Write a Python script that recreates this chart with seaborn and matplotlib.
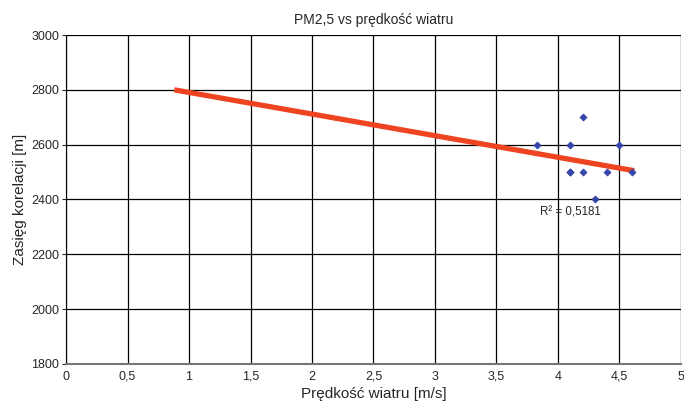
import numpy as np
import pandas as pd
import matplotlib
matplotlib.use("Agg")
import matplotlib.pyplot as plt
import seaborn as sns

wind_speed = [3.83, 4.1, 4.2, 4.5, 4.1, 4.1, 4.2, 4.4, 4.6, 4.3]
corr_range = [2600, 2600, 2700, 2600, 2500, 2500, 2500, 2500, 2500, 2400]

# linear trendline (Excel style, extended backwards)
trend_x = [0.88, 4.62]
trend_y = [2800, 2505]
r2_text = "R² = 0,5181"

x_ticks = [0, 0.5, 1, 1.5, 2, 2.5, 3, 3.5, 4, 4.5, 5]
y_ticks = [1800, 2000, 2200, 2400, 2600, 2800, 3000]

sns.set_style("white")
plt.rcParams['font.family'] = ['Liberation Sans', 'DejaVu Sans']

fig = plt.figure(figsize=(6.84, 4.07), dpi=100)
ax = fig.add_axes([0.0965, 0.1057, 0.8991, 0.8083])

df = pd.DataFrame({"x": wind_speed, "y": corr_range})
trend = pd.DataFrame({"x": trend_x, "y": trend_y})

sns.lineplot(data=trend, x="x", y="y", ax=ax, color="#ee4422", linewidth=3.8,
             solid_capstyle="butt", zorder=3)
sns.scatterplot(data=df, x="x", y="y", ax=ax, marker="D", s=13, color="#3344aa",
                edgecolor="#3344aa", linewidth=0.5, zorder=4)

ax.text(3.85, 2353, r2_text, fontsize=8.3, va="center", ha="left")

ax.set_xlim(0, 5)
ax.set_ylim(1800, 3000)
ax.set_xticks(x_ticks)
ax.set_xticklabels([str(t).replace(".", ",") if t != int(t) else str(int(t)) for t in x_ticks])
ax.set_yticks(y_ticks)
ax.grid(True, color="black", linewidth=0.9)
for s in ["top", "right"]:
    ax.spines[s].set_visible(False)
ax.spines["left"].set_color("black")
ax.spines["bottom"].set_color("#777777")
ax.spines["bottom"].set_linewidth(1.5)
ax.tick_params(axis="both", labelsize=9, length=3, direction="out", left=True, bottom=False, pad=2)

ax.set_title("PM2,5 vs prędkość wiatru", fontsize=10, pad=8)
ax.set_xlabel("Prędkość wiatru [m/s]", fontsize=11, labelpad=3)
ax.set_ylabel("Zasięg korelacji [m]", fontsize=11, labelpad=3)

fig.savefig("out.png", dpi=100)
